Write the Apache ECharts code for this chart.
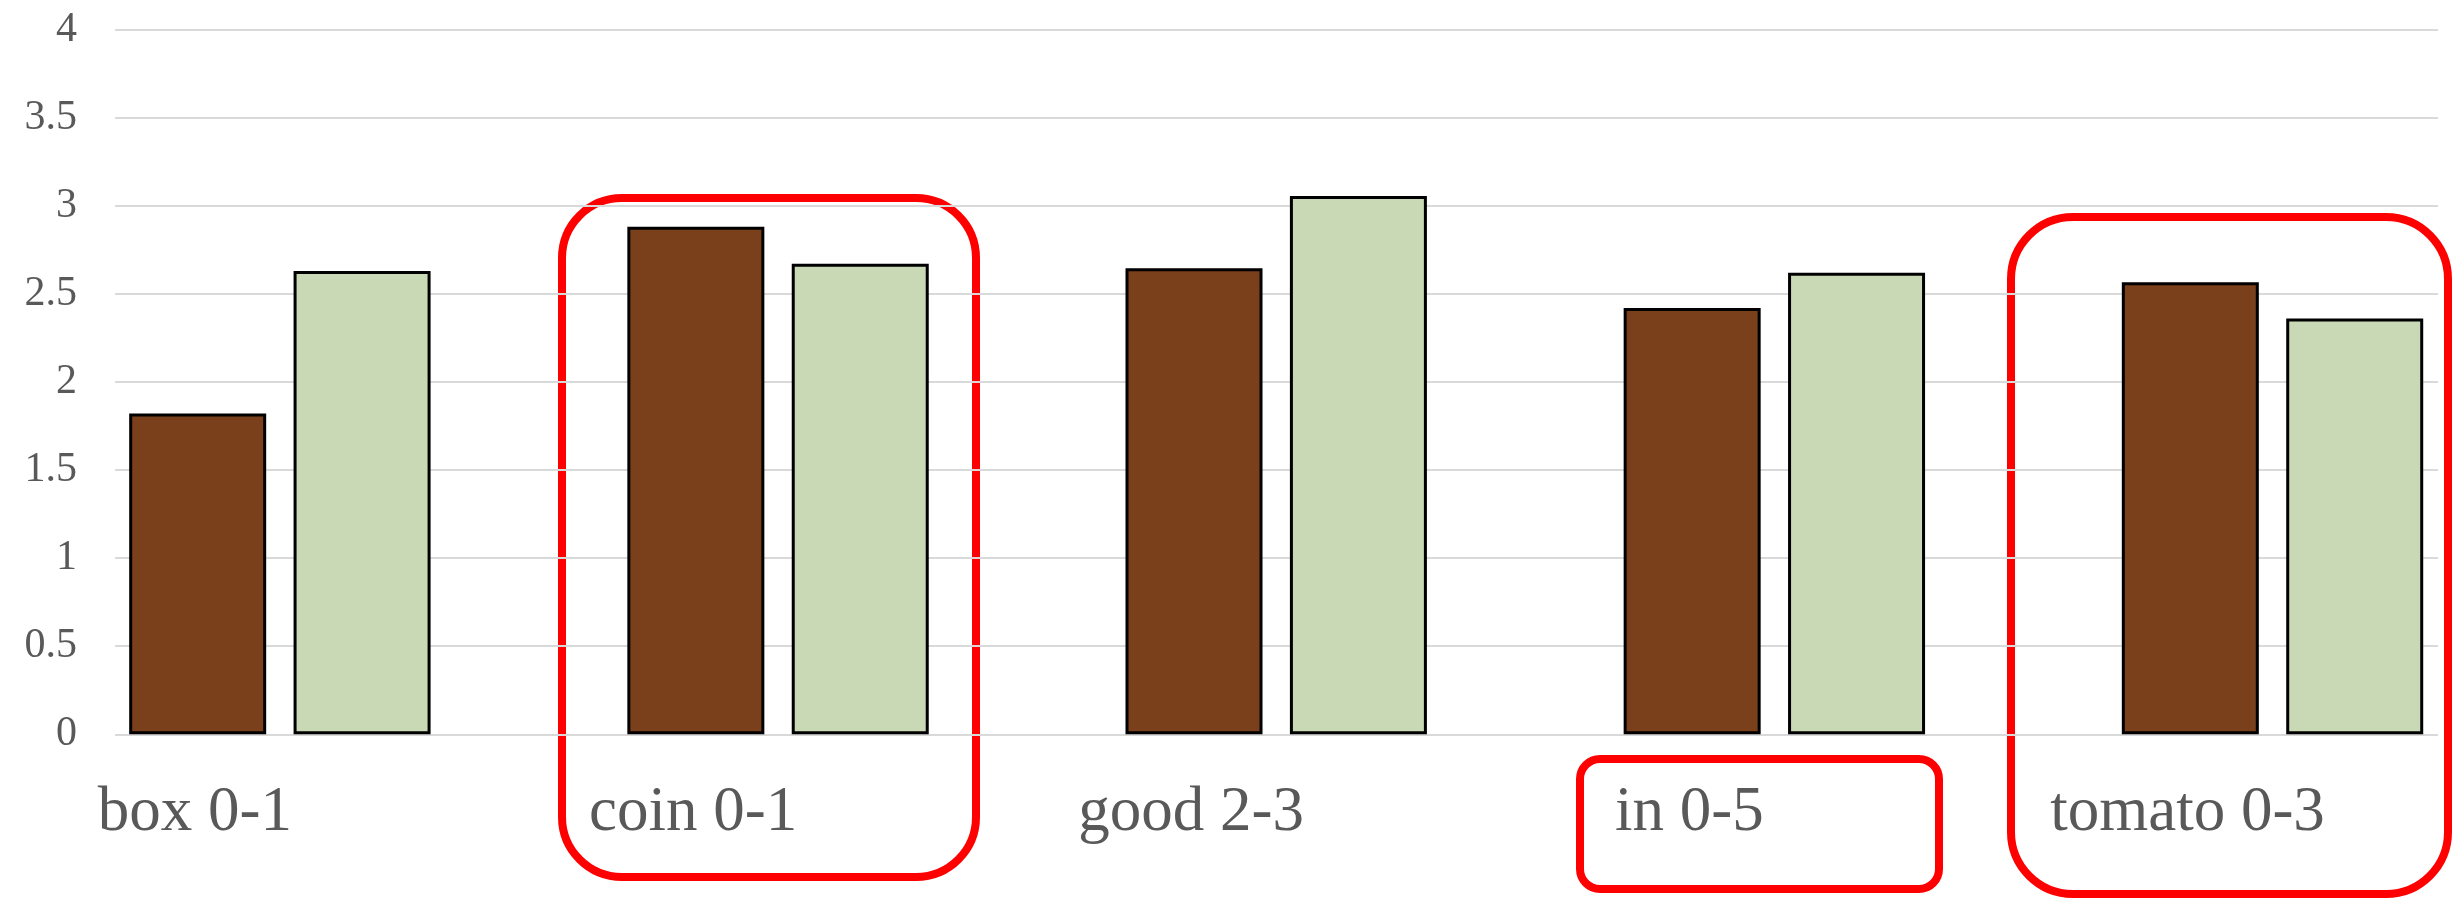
<!DOCTYPE html>
<html>
<head>
<meta charset="utf-8">
<script src="https://cdn.jsdelivr.net/npm/echarts@6/dist/echarts.min.js"></script>
<style>
  html, body { margin: 0; padding: 0; background: #ffffff; }
  #chart { width: 2455px; height: 898px; }
</style>
</head>
<body>
<div id="chart"></div>
<script>
// Word / age-range categories
const categories = ['box 0-1', 'coin 0-1', 'good 2-3', 'in 0-5', 'tomato 0-3'];
// Two compared groups per category
const brownValues = [1.82, 2.88, 2.645, 2.42, 2.565];
const greenValues = [2.63, 2.67, 3.055, 2.62, 2.36];
// Value axis range
const yMin = 0, yMax = 4, yStep = 0.5;

const labelFont = '"Liberation Serif", "Times New Roman", serif';
const chart = echarts.init(document.getElementById('chart'), null, { renderer: 'canvas' });

const gridTop = 29.5, gridBottom = 163.7;

chart.setOption({
  animation: false,
  backgroundColor: '#ffffff',
  grid: [
    // grid carrying the value axis and its horizontal lines
    { left: 115, right: 17, top: gridTop, bottom: gridBottom,
      containLabel: false, outerBoundsMode: 'none' },
    // grid carrying the bars (category bands run past the visible edges)
    { left: 30.8, width: 2490.8, top: gridTop, bottom: gridBottom,
      containLabel: false, outerBoundsMode: 'none' }
  ],
  xAxis: [
    { gridIndex: 0, type: 'category', data: categories, show: false },
    {
      gridIndex: 1, type: 'category', data: categories,
      axisLine: { show: false }, axisTick: { show: false },
      axisLabel: {
        color: '#595959', fontFamily: labelFont, fontSize: 63,
        margin: 48, padding: [0, 170, 0, 0], interval: 0
      }
    }
  ],
  yAxis: [
    {
      gridIndex: 0, type: 'value', min: yMin, max: yMax, interval: yStep,
      axisLine: { show: false }, axisTick: { show: false },
      axisLabel: { color: '#595959', fontFamily: labelFont, fontSize: 42, margin: 38 },
      splitLine: { lineStyle: { color: '#d9d9d9', width: 2 } }
    },
    {
      gridIndex: 1, type: 'value', min: yMin, max: yMax, interval: yStep,
      show: false, splitLine: { show: false }
    }
  ],
  series: [
    {
      name: 'brown', type: 'bar', xAxisIndex: 1, yAxisIndex: 1,
      data: brownValues, barWidth: 137, barGap: '20%',
      itemStyle: { color: '#7a3f1b', borderColor: '#000000', borderWidth: 3 }
    },
    {
      name: 'green', type: 'bar', xAxisIndex: 1, yAxisIndex: 1,
      data: greenValues, barWidth: 137, barGap: '20%',
      itemStyle: { color: '#c9d8b5', borderColor: '#000000', borderWidth: 3 }
    }
  ],
  // highlight frames around selected categories
  graphic: [
    { type: 'rect', shape: { x: 562, y: 198, width: 414, height: 679, r: 60 },
      style: { fill: 'none', stroke: '#ff0000', lineWidth: 8 } },
    { type: 'rect', shape: { x: 1580, y: 759, width: 359, height: 130, r: 20 },
      style: { fill: 'none', stroke: '#ff0000', lineWidth: 8 } },
    { type: 'rect', shape: { x: 2011, y: 217, width: 437, height: 677, r: 62 },
      style: { fill: 'none', stroke: '#ff0000', lineWidth: 8 } }
  ]
});
</script>
</body>
</html>
